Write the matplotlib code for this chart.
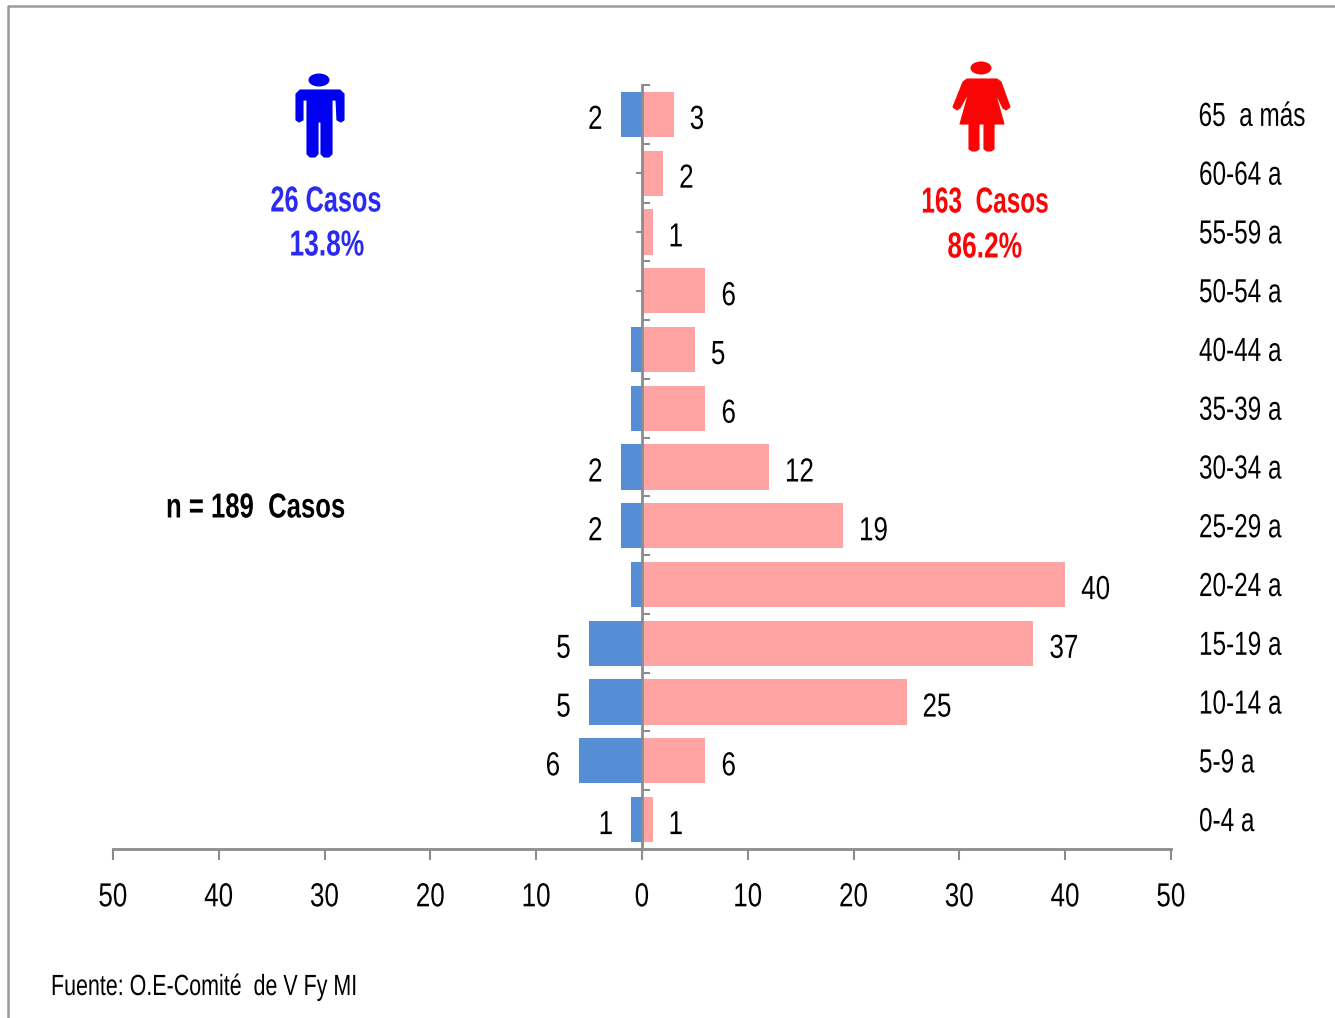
import matplotlib
matplotlib.use("Agg")
import matplotlib.pyplot as plt
from matplotlib.patches import Ellipse, Polygon
from matplotlib.lines import Line2D
from matplotlib.patheffects import AbstractPathEffect
from matplotlib.transforms import Affine2D

plt.rcParams["font.family"] = ["Liberation Sans", "DejaVu Sans"]

age_groups = ["65  a más", "60-64 a", "55-59 a", "50-54 a", "40-44 a", "35-39 a", "30-34 a",
              "25-29 a", "20-24 a", "15-19 a", "10-14 a", "5-9 a", "0-4 a"]
men = [2, 0, 0, 0, 1, 1, 2, 2, 1, 5, 5, 6, 1]
women = [3, 2, 1, 6, 5, 6, 12, 19, 40, 37, 25, 6, 1]
men_labels = ["2", "", "", "", "", "", "2", "2", "", "5", "5", "6", "1"]
women_labels = ["3", "2", "1", "6", "5", "6", "12", "19", "40", "37", "25", "6", "1"]
x_ticks = [-50, -40, -30, -20, -10, 0, 10, 20, 30, 40, 50]

W, H = 1335, 1018
GRAY = "#8c8c8c"


class Condense(AbstractPathEffect):
    # no narrow font installed, so squeeze the glyphs horizontally
    def __init__(self, sx, align="left"):
        super().__init__()
        self.sx = sx
        self.k = {"left": 0.0, "center": 0.5, "right": 1.0}[align]

    def draw_path(self, renderer, gc, tpath, affine, rgbFace=None):
        w = tpath.get_extents().x1
        shift = (1 - self.sx) * w * self.k
        squeeze = Affine2D().scale(self.sx, 1).translate(shift, 0)
        renderer.draw_path(gc, tpath, squeeze + affine, rgbFace)


fig = plt.figure(figsize=(W / 100, H / 100), dpi=100)
ax = fig.add_axes([113 / W, (H - 849) / H, (1171 - 113) / W, (849 - 85) / H])

ypos = list(range(len(age_groups)))
ax.barh(ypos, [-m for m in men], height=0.77, color="#558ed5", zorder=2)
ax.barh(ypos, women, height=0.77, color="#ffa3a3", zorder=2)

ax.set_xlim(-50, 50)
ax.set_ylim(len(age_groups) - 0.5, -0.5)
ax.set_xticks(x_ticks)
ax.set_xticklabels([str(abs(t)) for t in x_ticks], fontsize=24)
for lab in ax.get_xticklabels():
    lab.set_path_effects([Condense(0.78, "center")])
ax.tick_params(axis="x", length=8, width=1.5, color=GRAY, pad=16)

for s in ["top", "right"]:
    ax.spines[s].set_visible(False)
ax.spines["bottom"].set_color(GRAY)
ax.spines["bottom"].set_linewidth(2)
ax.spines["left"].set_position(("data", 0))
ax.spines["left"].set_color(GRAY)
ax.spines["left"].set_linewidth(2)
ax.spines["left"].set_zorder(5)

# boundaries tick to the right, centres to the left
ax.set_yticks([i - 0.5 for i in range(len(age_groups))])
ax.set_yticklabels([])
ax.tick_params(axis="y", which="major", direction="in", length=6, width=1.5, color=GRAY, zorder=5)
ax.set_yticks(ypos + [-0.5], minor=True)
ax.tick_params(axis="y", which="minor", direction="out", length=4, width=1.5, color=GRAY, zorder=5)

for i in ypos:
    ax.annotate(women_labels[i], (women[i], i), xytext=(16, -6), textcoords="offset pixels",
                ha="left", va="center", fontsize=24, path_effects=[Condense(0.78)])
    if men_labels[i]:
        ax.annotate(men_labels[i], (-men[i], i), xytext=(-18, -6), textcoords="offset pixels",
                    ha="right", va="center", fontsize=24, path_effects=[Condense(0.78, "right")])
    if i == 0:
        # longest label: anchor at its right end so its box stays inside the figure
        ax.annotate(age_groups[i], (50, i), xytext=(135, -3), textcoords="offset pixels",
                    ha="right", va="center", fontsize=24, annotation_clip=False,
                    path_effects=[Condense(0.73, "right")])
    else:
        ax.annotate(age_groups[i], (50, i), xytext=(28, -3), textcoords="offset pixels",
                    ha="left", va="center", fontsize=24, annotation_clip=False,
                    path_effects=[Condense(0.73)])

# overlay in pixel coordinates for frame, icons and free text
ov = fig.add_axes([0, 0, 1, 1], facecolor="none")
ov.set_xlim(0, W)
ov.set_ylim(H, 0)
ov.axis("off")

ov.add_line(Line2D([8, 8, W], [H, 6, 6], color="#9a9a9a", lw=1.8))

BLUE = "#0000f0"
ov.add_patch(Ellipse((319, 80), 21, 13, color=BLUE, lw=0))
man = [(300, 90), (340, 90), (344, 94), (344, 120), (341, 122), (337, 120), (336, 100), (332, 100),
       (332, 154), (329, 157), (324, 157), (321, 154), (321, 122), (318, 122), (318, 154), (315, 157),
       (310, 157), (307, 154), (307, 100), (303, 100), (303, 120), (299, 122), (296, 120), (296, 94)]
ov.add_patch(Polygon(man, closed=True, fc=BLUE, ec=BLUE, lw=0.8, joinstyle="round"))

RED = "#fa0505"
ov.add_patch(Ellipse((981, 68), 21, 13, color=RED, lw=0))
woman = [(967, 79), (997, 79), (1001, 82), (1010, 107), (1006, 110), (1003, 108), (995, 92), (1004, 124),
         (994, 124), (994, 149), (991, 151), (987, 151), (984, 149), (984, 124), (979, 124), (979, 149),
         (976, 151), (972, 151), (969, 149), (969, 124), (960, 124), (969, 92), (960, 108), (957, 110),
         (953, 107), (963, 82)]
ov.add_patch(Polygon(woman, closed=True, fc=RED, ec=RED, lw=0.8, joinstyle="round"))

ov.text(326, 202, "26 Casos", color="#2a2af0", fontsize=26, fontweight="bold", ha="center", va="center",
        path_effects=[Condense(0.70, "center")])
ov.text(327, 246, "13.8%", color="#2a2af0", fontsize=26, fontweight="bold", ha="center", va="center",
        path_effects=[Condense(0.73, "center")])
ov.text(985, 203, "163  Casos", color="#fa0505", fontsize=26, fontweight="bold", ha="center", va="center",
        path_effects=[Condense(0.675, "center")])
ov.text(985, 248, "86.2%", color="#fa0505", fontsize=26, fontweight="bold", ha="center", va="center",
        path_effects=[Condense(0.73, "center")])
ov.text(166, 508, "n = 189  Casos", color="black", fontsize=25, fontweight="bold", ha="left", va="center",
        path_effects=[Condense(0.74)])
ov.text(51, 987, "Fuente: O.E-Comité  de V Fy MI", color="black", fontsize=21, ha="left", va="center",
        path_effects=[Condense(0.735)])

plt.savefig("out.png", dpi=100)
plt.close()
